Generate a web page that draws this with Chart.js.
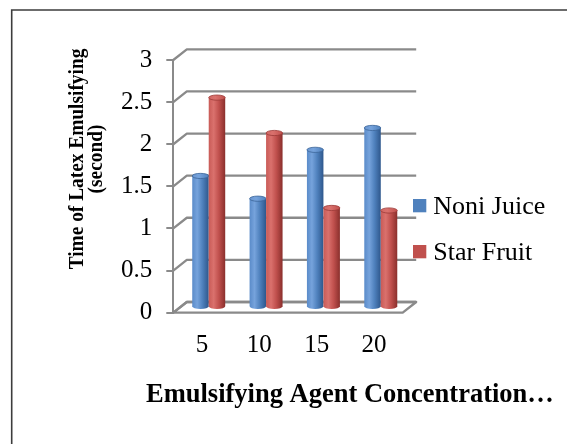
<!DOCTYPE html>
<html>
<head>
<meta charset="utf-8">
<script src="https://cdn.jsdelivr.net/npm/chart.js@4.4.1/dist/chart.umd.min.js"></script>
<style>
  html, body { margin: 0; padding: 0; background: #ffffff; }
  #wrap { width: 567px; height: 444px; }
  canvas { display: block; }
</style>
</head>
<body>
<div id="wrap"><canvas id="chart" width="567" height="444"></canvas></div>
<script>
// Emulsifying agent concentration categories
const categories = ['5', '10', '15', '20'];
// Time of latex emulsifying (second)
const noniJuice = [1.56, 1.29, 1.87, 2.13];
const starFruit = [2.49, 2.07, 1.18, 1.15];
// Value axis ticks
const yTicks = [0, 0.5, 1, 1.5, 2, 2.5, 3];
const seriesNames = ['Noni Juice', 'Star Fruit'];
const yTitleLines = ['Time of Latex Emulsifying', '(second)'];
const xTitle = 'Emulsifying Agent Concentration\u2026';

const SERIF = '"Liberation Serif", "Times New Roman", serif';
const DX = 13.5;   // depth offset of the back wall, x
const DY = 10.7;   // depth offset of the back wall, y
const GRID = '#8a8a8a';

const shades = [
  { base: '#4f81bd', light: '#76a3dc', mid: '#5a8bc9', dark: '#2e578c', top: '#6a96d0', rim: '#3b6598' },
  { base: '#c0504d', light: '#da716d', mid: '#c95b57', dark: '#8a2f2c', top: '#d06763', rim: '#9c3a37' }
];

function drawCylinder(ctx, cx, yTop, yBase, w, s) {
  const l = cx - w / 2, r = cx + w / 2, rx = w / 2, ry = 2.6;
  const g = ctx.createLinearGradient(l, 0, r, 0);
  g.addColorStop(0, s.mid);
  g.addColorStop(0.3, s.light);
  g.addColorStop(0.62, s.base);
  g.addColorStop(1, s.dark);
  ctx.save();
  ctx.beginPath();
  ctx.moveTo(l, yTop);
  ctx.lineTo(l, yBase);
  ctx.ellipse(cx, yBase, rx, ry, 0, Math.PI, 0, true);
  ctx.lineTo(r, yTop);
  ctx.closePath();
  ctx.fillStyle = g;
  ctx.fill();
  // top cap
  const gt = ctx.createLinearGradient(l, 0, r, 0);
  gt.addColorStop(0, s.top);
  gt.addColorStop(0.4, s.light);
  gt.addColorStop(1, s.base);
  ctx.beginPath();
  ctx.ellipse(cx, yTop, rx, ry, 0, 0, Math.PI * 2);
  ctx.fillStyle = gt;
  ctx.fill();
  ctx.lineWidth = 0.8;
  ctx.strokeStyle = s.rim;
  ctx.stroke();
  ctx.restore();
}

// Floor, back wall gridlines and left wall connectors
const wallsPlugin = {
  id: 'walls',
  beforeDatasetsDraw(chart) {
    const { ctx, chartArea: { left, right, bottom } } = chart;
    const y = chart.scales.y;
    ctx.save();
    ctx.lineJoin = 'round';
    ctx.beginPath();
    ctx.moveTo(left, bottom);
    ctx.lineTo(right, bottom);
    ctx.lineTo(right + DX, bottom - DY);
    ctx.lineTo(left + DX, bottom - DY);
    ctx.closePath();
    ctx.fillStyle = '#ffffff';
    ctx.fill();
    ctx.strokeStyle = GRID;
    ctx.lineWidth = 2.3;
    ctx.stroke();
    y.ticks.forEach(t => {
      const py = y.getPixelForValue(t.value);
      ctx.beginPath();
      ctx.moveTo(left, py);
      ctx.lineTo(left + DX, py - DY);
      ctx.lineTo(right + DX, py - DY);
      ctx.stroke();
    });
    ctx.restore();
  }
};

// Bars are rendered as cylinders at mid depth
const cylinderPlugin = {
  id: 'cylinders',
  beforeDatasetDraw() { return false; },
  afterDatasetsDraw(chart) {
    const ctx = chart.ctx;
    const metas = chart.data.datasets.map((d, i) => chart.getDatasetMeta(i));
    for (let j = 0; j < categories.length; j++) {
      metas.forEach((meta, i) => {
        const p = meta.data[j].getProps(['x', 'y', 'base', 'width'], true);
        drawCylinder(ctx, p.x + DX / 2, p.y - DY / 2, p.base - DY / 2, p.width, shades[i]);
      });
    }
  }
};

// Frame, axis titles and legend
const decorPlugin = {
  id: 'decor',
  afterDraw(chart) {
    const ctx = chart.ctx;
    ctx.save();
    // frame
    ctx.strokeStyle = '#3c3c3c';
    ctx.lineWidth = 1.6;
    ctx.beginPath();
    ctx.moveTo(11.7, 444);
    ctx.lineTo(11.7, 10);
    ctx.lineTo(567, 10);
    ctx.stroke();

    ctx.fillStyle = '#000000';
    // value axis title (condensed along the baseline)
    ctx.save();
    ctx.translate(0, 159);
    ctx.rotate(-Math.PI / 2);
    ctx.scale(0.88, 1);
    ctx.font = 'bold 22px ' + SERIF;
    ctx.textAlign = 'center';
    ctx.textBaseline = 'alphabetic';
    ctx.fillText(yTitleLines[0], 0, 83);
    ctx.fillText(yTitleLines[1], 0, 102);
    ctx.restore();

    // category axis title
    ctx.font = 'bold 26.5px ' + SERIF;
    ctx.textAlign = 'left';
    ctx.textBaseline = 'alphabetic';
    ctx.fillText(xTitle, 146, 402);

    // legend
    ctx.font = '26px ' + SERIF;
    chart.data.datasets.forEach((ds, i) => {
      const top = 199 + i * 46;
      ctx.fillStyle = ds.backgroundColor;
      ctx.fillRect(413, top, 13.3, 13.3);
      ctx.fillStyle = '#000000';
      ctx.fillText(ds.label, 433.3, top + 15);
    });
    ctx.restore();
  }
};

new Chart(document.getElementById('chart'), {
  type: 'bar',
  data: {
    labels: categories,
    datasets: [
      { label: seriesNames[0], data: noniJuice, backgroundColor: shades[0].base },
      { label: seriesNames[1], data: starFruit, backgroundColor: shades[1].base }
    ]
  },
  options: {
    responsive: false,
    animation: false,
    devicePixelRatio: 1,
    layout: { padding: { left: 0, top: 60, right: 164.3, bottom: 71.3 } },
    categoryPercentage: 0.575,
    barPercentage: 1.0,
    plugins: {
      legend: { display: false },
      tooltip: { enabled: false },
      title: { display: false }
    },
    scales: {
      x: {
        type: 'category',
        offset: true,
        grid: { display: false, drawTicks: false },
        border: { display: false },
        ticks: { color: '#000000', font: { family: SERIF, size: 25 }, padding: 18, maxRotation: 0, autoSkip: false },
        afterFit(s) { s.height = 60; }
      },
      y: {
        min: 0,
        max: 3,
        afterBuildTicks(s) { s.ticks = yTicks.map(v => ({ value: v })); },
        grid: { drawOnChartArea: false, drawTicks: true, tickLength: 7, color: GRID, lineWidth: 2 },
        border: { display: true, color: GRID, width: 2 },
        ticks: {
          color: '#000000',
          font: { family: SERIF, size: 25 },
          padding: 14,
          callback: v => String(v)
        },
        afterFit(s) { s.width = 173.3; }
      }
    }
  },
  plugins: [wallsPlugin, cylinderPlugin, decorPlugin]
});
</script>
</body>
</html>
